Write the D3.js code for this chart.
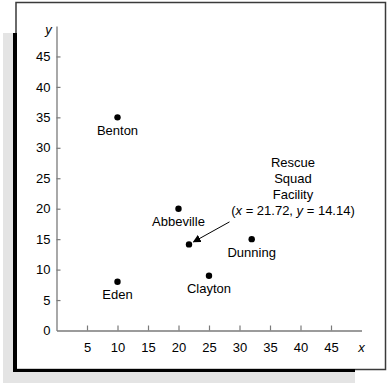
<!DOCTYPE html>
<html><head><meta charset="utf-8">
<script src="https://cdn.jsdelivr.net/npm/d3@7"></script>
<style>body{margin:0;background:#fff}svg{display:block}text{font-family:"Liberation Sans",Arial,sans-serif}</style>
</head><body>
<svg id="c" width="389" height="386"></svg>
<script>
const names = ["Benton","Abbeville","Dunning","Eden","Clayton"];
const xs = [10, 20, 32, 10, 25];
const ys = [35, 20, 15, 8, 9];
const facility = {x: 21.72, y: 14.14};
const facilityLines = ["Rescue","Squad","Facility"];
const xTicks = [5,10,15,20,25,30,35,40,45];
const yTicks = [0,5,10,15,20,25,30,35,40,45];

const svg = d3.select("#c");
// frame
svg.append("rect").attr("x",3).attr("y",33).attr("width",352).attr("height",350).attr("fill","#e4e4e4");
svg.append("rect").attr("x",16).attr("y",2.5).attr("width",369.5).attr("height",367).attr("fill","#fff").attr("stroke","#3a3a3a").attr("stroke-width",1.5);
svg.append("rect").attr("x",13).attr("y",33).attr("width",4).attr("height",339).attr("fill","#000");
svg.append("rect").attr("x",13).attr("y",369).attr("width",342).attr("height",3).attr("fill","#000");

const x = d3.scaleLinear().domain([0,50]).range([56.5,361.5]);
const y = d3.scaleLinear().domain([0,50]).range([330.5,26]);
const axCol = "#7a7a7a";

const gx = svg.append("g").attr("transform",`translate(0,${y(0)})`)
  .call(d3.axisTop(x).tickValues(xTicks).tickSize(5).tickSizeOuter(0).tickFormat(d3.format("d")));
gx.select(".domain").attr("stroke",axCol).attr("stroke-width",1.3);
gx.selectAll(".tick line").attr("stroke",axCol).attr("stroke-width",1.2);
gx.selectAll(".tick text").attr("y",17).attr("dy","0.35em").attr("font-size",13).attr("fill","#000").attr("font-family","Liberation Sans, Arial, sans-serif");

const gy = svg.append("g").attr("transform",`translate(${x(0)},0)`)
  .call(d3.axisRight(y).tickValues(yTicks).tickSize(4).tickSizeOuter(0).tickFormat(d3.format("d")));
gy.select(".domain").attr("stroke",axCol).attr("stroke-width",1.3);
gy.selectAll(".tick line").attr("stroke",axCol).attr("stroke-width",1.2);
gy.selectAll(".tick text").attr("x",-6).attr("text-anchor","end").attr("font-size",13).attr("fill","#000").attr("font-family","Liberation Sans, Arial, sans-serif");
gy.selectAll(".tick").filter(d=>d===0).select("line").remove();

svg.append("text").attr("x",x(0)-8).attr("y",y(50)+8).attr("font-size",13).attr("font-style","italic").attr("text-anchor","middle").text("y");
svg.append("text").attr("x",x(50)).attr("y",y(0)+17).attr("dy","0.35em").attr("font-size",13).attr("font-style","italic").attr("text-anchor","middle").text("x");

const pts = names.map((n,i)=>({n, x:xs[i], y:ys[i]}));
svg.selectAll("circle.p").data(pts).join("circle").attr("class","p")
  .attr("cx",d=>x(d.x)).attr("cy",d=>y(d.y)).attr("r",3.2).attr("fill","#000");
svg.selectAll("text.l").data(pts).join("text").attr("class","l")
  .attr("x",d=>x(d.x)).attr("y",d=>y(d.y)+17.5).attr("text-anchor","middle").attr("font-size",13).text(d=>d.n);

svg.append("circle").attr("cx",x(facility.x)).attr("cy",y(facility.y)).attr("r",3.2).attr("fill","#000");

const lx = x(facility.x)+104, ly0 = y(facility.y)-77;
facilityLines.forEach((t,i)=>{
  svg.append("text").attr("x",lx).attr("y",ly0+i*15.8).attr("text-anchor","middle").attr("font-size",13).text(t);
});
const last = svg.append("text").attr("x",lx).attr("y",ly0+3*15.8).attr("text-anchor","middle").attr("font-size",13);
last.append("tspan").text("(");
last.append("tspan").attr("font-style","italic").text("x");
last.append("tspan").text(` = ${facility.x}, `);
last.append("tspan").attr("font-style","italic").text("y");
last.append("tspan").text(` = ${facility.y})`);

// arrow
const defs = svg.append("defs");
defs.append("marker").attr("id","ah").attr("viewBox","0 0 10 10").attr("refX",9).attr("refY",5)
  .attr("markerWidth",8).attr("markerHeight",8).attr("markerUnits","userSpaceOnUse").attr("orient","auto")
  .append("path").attr("d","M0,0L10,5L0,10Z").attr("fill","#000");
svg.append("line").attr("x1",x(facility.x)+40.5).attr("y1",y(facility.y)-22.5)
  .attr("x2",x(facility.x)+4.5).attr("y2",y(facility.y)-2.5)
  .attr("stroke","#000").attr("stroke-width",1).attr("marker-end","url(#ah)");
</script>
</body></html>
